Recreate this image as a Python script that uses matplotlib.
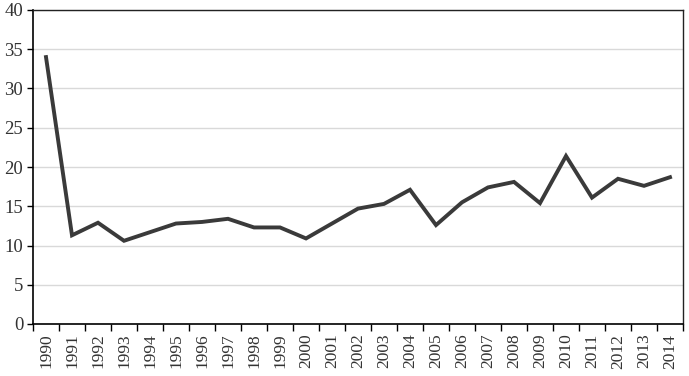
import numpy as np
import matplotlib.pyplot as plt

years = [str(y) for y in range(1990, 2015)]
values = [34.0, 11.3, 12.9, 10.6, 11.7, 12.8, 13.0, 13.4, 12.3, 12.3,
          10.9, 12.8, 14.7, 15.3, 17.1, 12.6, 15.5, 17.4, 18.1, 15.4,
          21.4, 16.1, 18.5, 17.6, 18.7]
yticks = [0, 5, 10, 15, 20, 25, 30, 35, 40]

plt.rcParams['font.family'] = ['Liberation Serif', 'DejaVu Serif']

fig = plt.figure(figsize=(6.89, 3.76), dpi=100)
ax = fig.add_axes([33 / 689, 52 / 376, 650 / 689, 314 / 376])

x = np.arange(len(years))
ax.plot(x, values, color='#3a3a3a', linewidth=2.8, solid_joinstyle='miter', zorder=3)

ax.set_xlim(-0.5, len(years) - 0.5)
ax.set_ylim(0, 40)
ax.set_yticks(yticks)
ax.yaxis.grid(True, color='#d9d9d9', linewidth=1)
ax.set_axisbelow(True)

# labels at category centres, tick marks on the boundaries
ax.set_xticks(x)
ax.set_xticklabels(years, rotation=90, fontsize=12.5, color='#333333')
ax.tick_params(axis='x', which='major', length=0, pad=7)
ax.set_xticks(np.arange(-0.5, len(years)), minor=True)
ax.tick_params(axis='x', which='minor', length=5, width=1, color='black', direction='out')
ax.tick_params(axis='y', length=4, width=1, labelsize=13.5, labelcolor='#333333', pad=3)

for s in ['left', 'bottom']:
    ax.spines[s].set_color('black')
    ax.spines[s].set_linewidth(1.2)
for s in ['top', 'right']:
    ax.spines[s].set_color('#222222')
    ax.spines[s].set_linewidth(1)

fig.savefig('out.png', dpi=100)
